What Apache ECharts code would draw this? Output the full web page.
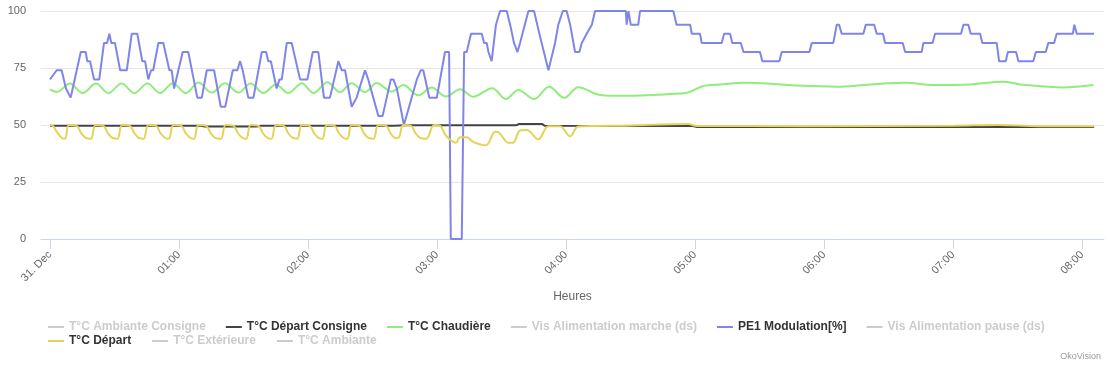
<!DOCTYPE html>
<html>
<head>
<meta charset="utf-8">
<script src="https://cdn.jsdelivr.net/npm/echarts@6/dist/echarts.min.js"></script>
<style>
html,body{margin:0;padding:0;background:#fff;}
#chart{width:1109px;height:369px;}
</style>
</head>
<body>
<div id="chart"></div>
<script>
// x values are minutes after 31 Dec 00:00
const tickMinutes = [0, 60, 120, 180, 240, 300, 360, 420, 480];
const tickLabels = ['31. Dec', '01:00', '02:00', '03:00', '04:00', '05:00', '06:00', '07:00', '08:00'];
const yTicks = [0, 25, 50, 75, 100];

const departConsigne = [[0,49.7],[70,49.7],[72,49.3],[96,49.3],[98,49.7],[160,49.7],[165,49.9],[217,49.9],[218,50.4],[229,50.4],[230,49.7],[299,49.6],[301,49.1],[485.6,49.1]];

const chaudiere = [[0,65.6],[3.1,64.5],[9.3,68.2],[15.2,64],[21.4,68.2],[27.1,64],[33.3,68.2],[39.2,64],[45.3,68.2],[51.2,64],[57.1,68.3],[63.1,64],[69,68.6],[75.2,64.2],[81.4,68.3],[87.6,64.2],[93.3,68.2],[99.2,64],[105.1,67.8],[110.8,64],[117.1,68.3],[122.5,64],[129,68.7],[134.9,64.4],[140.3,68.3],[146.5,64.4],[151.9,68.4],[158.9,64.6],[164.3,67.5],[171.2,63],[177.5,66.5],[184.2,62.5],[190.7,65.7],[196.9,62.4],[205.6,66.1],[212.1,61.4],[217.8,65.4],[225.1,61.4],[232.1,66.8],[239.2,61.9],[245.7,66.6],[255.8,63.2],[268.2,62.8],[280.5,63.2],[293,63.8],[296.9,64.3],[303.9,67.1],[311.6,67.8],[324,68.5],[336.4,68],[347.3,67.3],[365.9,66.8],[378.3,67.5],[389.2,68.3],[398.5,68.5],[410.8,67.5],[427.9,67.8],[443.4,69],[451.2,67.8],[471.3,66.5],[485.3,67.5]];

const modulation = [[0,70],[3.1,74],[5.4,74],[7.4,66],[9.6,62],[14.3,82],[16.6,82],[17.3,78],[18.6,78],[20.5,70],[22.9,70],[25.1,86],[26.5,86],[27.6,90],[28.5,86],[30.2,86],[32.6,74],[35.7,74],[38,90],[40.6,90],[42.9,78],[44.2,78],[45.7,70],[47,74],[48,74],[50.4,86],[52.7,86],[55.5,74],[56.6,74],[57.7,66],[61.7,82],[64.3,82],[68.5,62],[70.6,62],[72.9,74],[76.3,74],[79.4,58],[81.5,58],[85,74],[87.1,74],[88.4,78],[89.6,74],[92.2,62],[94.6,62],[98.5,82],[100.5,82],[101.5,78],[102.7,78],[105.4,66],[106.7,70],[107.8,70],[110.1,86],[112.4,86],[116.3,70],[119.7,70],[122.2,82],[124.8,82],[127.4,62],[130.2,62],[134.1,78],[135.7,74],[137.2,74],[140.3,58],[142.6,62],[146.5,74],[148,70],[152.7,54],[154.7,54],[158.5,70],[159.7,70],[161.3,66],[164.6,50],[170.6,70],[172.4,74],[173.6,74],[176.4,62],[179.9,62],[183.7,82],[185.6,82],[186.4,0],[191.5,0],[192.6,82],[193.8,82],[195.8,90],[200.8,90],[201.9,86],[203.1,86],[203.9,82],[205.4,78],[207.4,94],[209.3,100],[212.4,100],[214,94],[215.8,86],[217.4,82],[218.6,86],[222.5,100],[225.1,100],[227.6,90],[231.8,74],[234.9,86],[236.4,94],[238.5,100],[240.3,100],[241.9,94],[244.2,82],[246.2,82],[247.3,86],[249.6,90],[252,94],[253.5,100],[267.8,100],[268.2,94],[269,100],[270.1,94],[273.6,94],[274.4,100],[289.9,100],[291.4,94],[297.7,94],[298.5,90],[302.3,90],[303.1,86],[312.4,86],[313.5,90],[316.3,90],[317.3,86],[321.3,86],[322.5,82],[330.2,82],[331.3,78],[339.2,78],[340.3,82],[353.2,82],[354.3,86],[364.3,86],[365.9,94],[367,94],[368.2,90],[378.3,90],[379.4,94],[383.3,94],[384.5,90],[387.4,90],[388.4,86],[396.6,86],[397.7,82],[405.4,82],[406.2,86],[410.5,86],[411.6,90],[423.7,90],[424.8,94],[427.1,94],[428.2,90],[432.6,90],[433.6,86],[440.3,86],[441.4,78],[444.5,78],[445.5,82],[449.3,82],[450.4,78],[457.3,78],[458.5,82],[463.1,82],[464.3,86],[467,86],[468.2,90],[475.7,90],[476.4,94],[477.5,90],[485.6,90]];

const depart = [[0,50],[1.5,49.5],[3.5,46.5],[5.5,44.3],[7,44],[8.8,50],
[12.5,49.6],[14.4,46.5],[16.7,44.3],[19,44],[21.2,50],
[24.9,49.6],[26.8,46.5],[29.1,44.3],[31.4,44],[33.5,50],
[37.2,49.6],[39.1,46.5],[41.4,44.3],[43.6,44],[45.7,50],
[49.4,49.6],[51.3,46.5],[53.6,44.3],[55.3,44],[57.4,50],
[61.1,49.6],[63,46.5],[65.3,44.3],[67,44],[69,50],
[72.7,49.6],[74.6,46.5],[76.9,44.3],[79.5,44],[81.7,50],
[85.4,49.6],[87.3,46.5],[89.6,44.3],[91.3,44],[93.3,50],
[97,49.6],[98.9,46.5],[101.2,44.3],[103,44],[105.1,50],
[108.8,49.6],[110.7,46.5],[113,44.3],[115,44],[117.1,50],
[120.8,49.6],[122.7,46.5],[125,44.3],[126.7,44],[128.7,50],
[132.4,49.6],[134.3,46.5],[136.6,44.3],[138.3,44],[140.3,50],
[144,49.6],[145.9,46.5],[148.2,44.3],[150.5,44],[152.7,50],
[156.4,49.6],[158.3,46.5],[160.6,44.3],[162.2,44.5],[164.3,50],
[168,49.6],[169.9,46.5],[172.2,44.3],[175,44],[178.6,50],
[181.5,49.6],[184,45.5],[188.8,42.2],[190.7,44.6],[193.8,44.6],[197,42.5],[202.8,41.1],[207,47],[209,46.5],[213.2,42.2],[215.3,42.2],[218.6,47.6],[221.7,47.8],[227.1,43.7],[231.8,49.5],[237.2,49.4],[241.9,45],[245.7,49.3],[270,49.8],[296.7,50.4],[300.9,49.6],[350,49.5],[420,49.7],[441,50],[460,49.5],[485.6,49.5]];

const hiddenNames = ['T°C Ambiante Consigne', 'Vis Alimentation marche (ds)', 'Vis Alimentation pause (ds)', 'T°C Extérieure', 'T°C Ambiante'];
const legendRow1 = ['T°C Ambiante Consigne', 'T°C Départ Consigne', 'T°C Chaudière', 'Vis Alimentation marche (ds)', 'PE1 Modulation[%]', 'Vis Alimentation pause (ds)'];
const legendRow2 = ['T°C Départ', 'T°C Extérieure', 'T°C Ambiante'];

const FONT = "'Liberation Sans', Arial, sans-serif";
const selected = {};
hiddenNames.forEach(n => selected[n] = false);

function lineSeries(name, color, data, smooth) {
  return {
    name: name, type: 'line', data: data, color: color,
    showSymbol: false, smooth: smooth ? 0.35 : false,
    lineStyle: { width: 2, color: color },
    emphasis: { disabled: true }
  };
}

const legendBase = {
  orient: 'horizontal', left: 48, itemWidth: 16, itemHeight: 2, icon: 'rect',
  textStyle: { fontFamily: FONT, fontSize: 12, fontWeight: 'bold', color: '#333' },
  inactiveColor: '#cccccc', selected: selected, padding: 0
};

const chart = echarts.init(document.getElementById('chart'), null, { renderer: 'canvas' });
chart.setOption({
  animation: false,
  textStyle: { fontFamily: FONT },
  grid: { left: 41, right: 5, top: 11, bottom: 130 },
  legend: [
    Object.assign({}, legendBase, { top: 321, itemGap: 20, data: legendRow1 }),
    Object.assign({}, legendBase, { top: 335, itemGap: 21, data: legendRow2 })
  ],
  graphic: [{
    type: 'text', right: 8, top: 352,
    style: { text: 'OkoVision', fontSize: 9, fill: '#999', fontFamily: FONT }
  }],
  xAxis: {
    type: 'value', min: -4.2, max: 490.2,
    name: 'Heures', nameLocation: 'middle', nameGap: 51,
    nameTextStyle: { color: '#666', fontSize: 12, fontFamily: FONT },
    axisLine: { lineStyle: { color: '#ccd6eb', width: 1 } },
    axisTick: { show: true, length: 10, lineStyle: { color: '#ccd6eb' }, customValues: tickMinutes },
    splitLine: { show: false },
    axisLabel: {
      customValues: tickMinutes, rotate: 45, margin: 14,
      color: '#666', fontSize: 11, fontFamily: FONT,
      formatter: v => tickLabels[tickMinutes.indexOf(v)] || ''
    }
  },
  yAxis: {
    type: 'value', min: yTicks[0], max: yTicks[yTicks.length - 1], interval: 25,
    axisLine: { show: false }, axisTick: { show: false },
    splitLine: { lineStyle: { color: '#e6e6e6', width: 1 } },
    axisLabel: { color: '#666', fontSize: 11, fontFamily: FONT, margin: 15 }
  },
  series: [
    lineSeries('T°C Ambiante Consigne', '#7cb5ec', [], false),
    lineSeries('T°C Départ Consigne', '#434348', departConsigne, false),
    lineSeries('T°C Chaudière', '#90ed7d', chaudiere, true),
    lineSeries('Vis Alimentation marche (ds)', '#f7a35c', [], false),
    lineSeries('PE1 Modulation[%]', '#8085e9', modulation, false),
    lineSeries('Vis Alimentation pause (ds)', '#f15c80', [], false),
    lineSeries('T°C Départ', '#e4d354', depart, true),
    lineSeries('T°C Extérieure', '#2b908f', [], false),
    lineSeries('T°C Ambiante', '#f45b5b', [], false)
  ]
});
</script>
</body>
</html>
